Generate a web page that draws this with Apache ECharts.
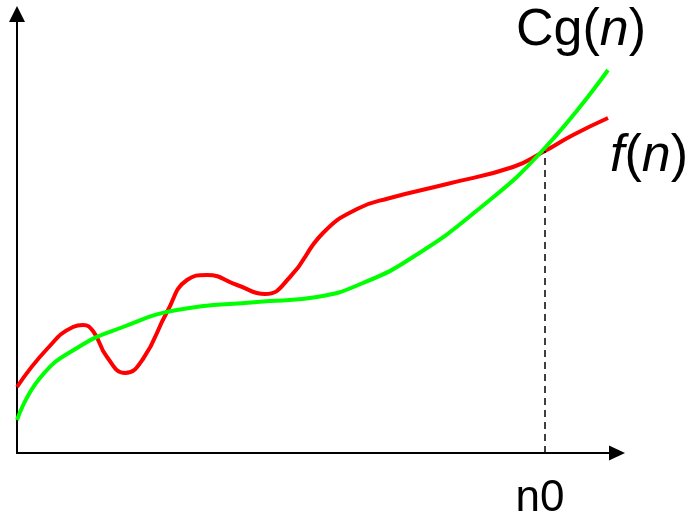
<!DOCTYPE html>
<html>
<head>
<meta charset="utf-8">
<script src="https://cdn.jsdelivr.net/npm/echarts@6/dist/echarts.min.js"></script>
<style>html,body{margin:0;padding:0;background:#fff;}#c{width:690px;height:521px;}</style>
</head>
<body>
<div id="c"></div>
<script>
// f(n) curve (red)
const fX = [0, 30, 56, 66, 76, 90, 108, 126, 150, 170, 190, 220, 248, 273, 306, 340, 373, 430, 496, 526, 556, 591];
const fY = [66, 104, 126, 128, 122, 96, 80, 94, 141, 173, 178, 168, 159, 176, 220, 244, 255, 269, 286, 301, 318, 335];
// Cg(n) curve (green)
const gX = [0, 23, 60, 106, 160, 240, 300, 346, 396, 463, 526, 591];
const gY = [33, 75, 105, 126, 143, 151, 156, 170, 196, 245, 303, 383];
// crossing point n0
const n0X = 528;
const n0Y = 302;
const n0Label = 'n0';

const fData = fX.map((x, i) => [x, fY[i]]);
const gData = gX.map((x, i) => [x, gY[i]]);

const chart = echarts.init(document.getElementById('c'), null, {renderer: 'canvas'});
const FONT = 'Liberation Sans, Arial, sans-serif';
chart.setOption({
  animation: false,
  backgroundColor: '#ffffff',
  grid: {left: 17, right: 73, top: 14, bottom: 68, containLabel: false},
  xAxis: {
    type: 'value', min: 0, max: 600,
    splitLine: {show: false},
    axisTick: {show: false},
    axisLine: {show: true, onZero: false, lineStyle: {color: '#000', width: 2}, symbol: ['none', 'triangle'], symbolSize: [15, 16]},
    axisLabel: {show: true, customValues: [n0X], formatter: () => n0Label, color: '#000', fontSize: 44, fontFamily: FONT, margin: 24, padding: [0, 10, 0, 0]}
  },
  yAxis: {
    type: 'value', min: 0, max: 439,
    splitLine: {show: false},
    axisTick: {show: false},
    axisLabel: {show: false},
    axisLine: {show: true, onZero: false, lineStyle: {color: '#000', width: 2}, symbol: ['none', 'triangle'], symbolSize: [16, 16]}
  },
  series: [
    {
      name: 'f(n)', type: 'line', data: fData, smooth: 0.5, showSymbol: false,
      lineStyle: {color: '#ff0000', width: 4, join: 'round'}, z: 2,
      markLine: {
        silent: true, symbol: 'none', animation: false,
        lineStyle: {color: '#000', width: 1.5, type: [7, 5]},
        label: {show: false},
        data: [[{coord: [n0X, 0]}, {coord: [n0X, n0Y]}]]
      }
    },
    {
      name: 'Cg(n)', type: 'line', data: gData, smooth: 0.5, showSymbol: false,
      lineStyle: {color: '#00ff00', width: 4, join: 'round'}, z: 3
    }
  ],
  graphic: [
    {
      type: 'text', left: 516, top: 5,
      style: {
        text: '{a|Cg(}{b|n}{a|)}',
        rich: {
          a: {fontSize: 52, fontFamily: FONT, fill: '#000', fontStyle: 'normal'},
          b: {fontSize: 52, fontFamily: FONT, fill: '#000', fontStyle: 'italic'}
        }
      }
    },
    {
      type: 'text', left: 610, top: 131,
      style: {
        text: '{b|f}{a|(}{b|n}{a|)}',
        rich: {
          a: {fontSize: 52, fontFamily: FONT, fill: '#000', fontStyle: 'normal'},
          b: {fontSize: 52, fontFamily: FONT, fill: '#000', fontStyle: 'italic'}
        }
      }
    }
  ]
});
</script>
</body>
</html>
